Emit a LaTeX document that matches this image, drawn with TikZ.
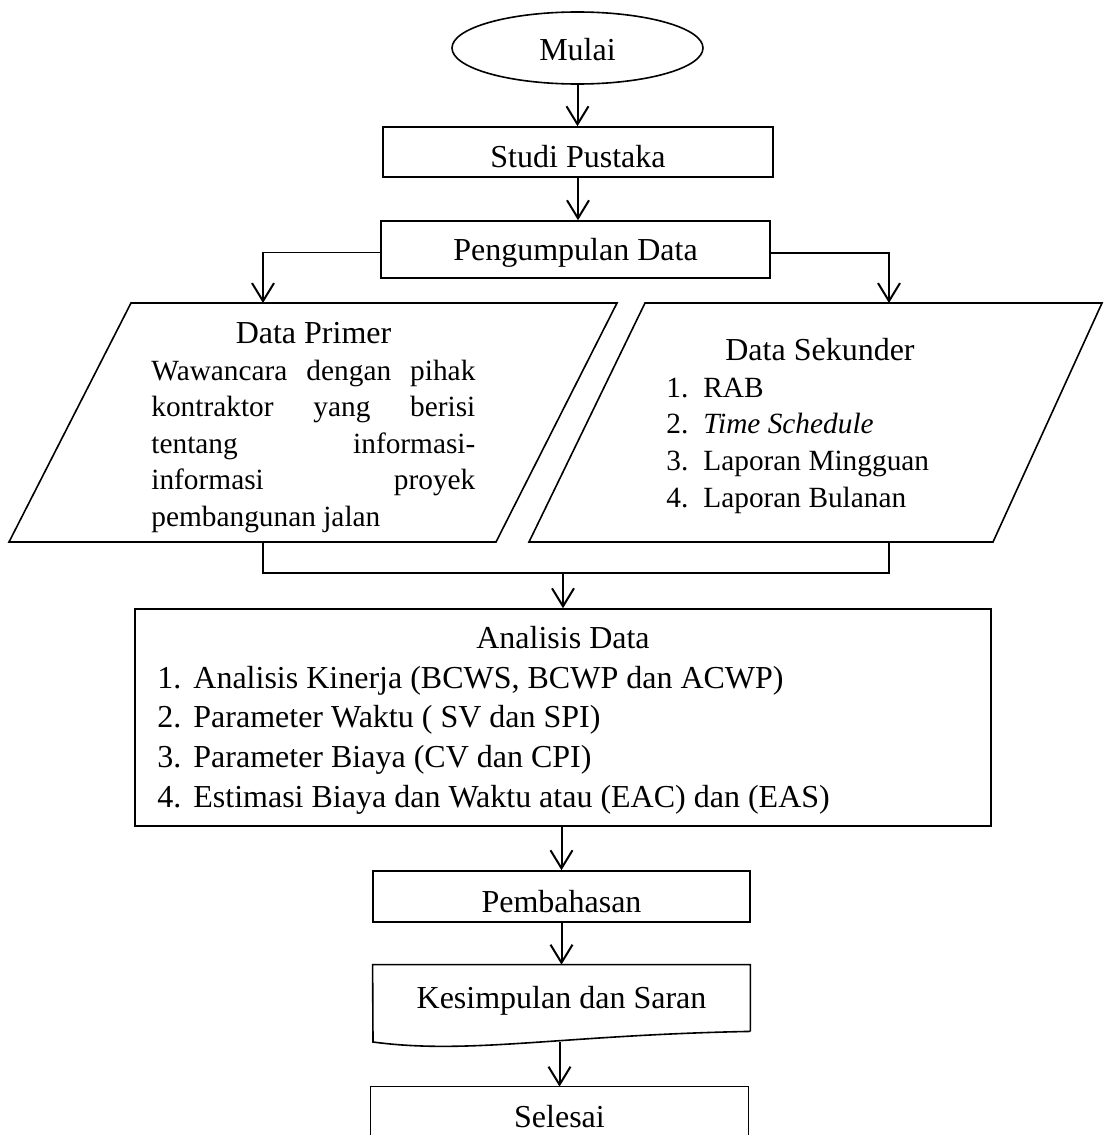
\documentclass[tikz,border=0pt]{standalone}
\usepackage{fontspec}
\setmainfont{Liberation Serif}
\usetikzlibrary{arrows.meta,shapes.geometric}
\begin{document}
\begin{tikzpicture}[x=0.5pt,y=-0.5pt,
  box/.style={draw, line width=0.8pt, rectangle, inner sep=0pt},
  plain/.style={inner sep=0pt},
  conn/.style={line width=0.8pt},
  arr/.style={line width=1pt, -{Straight Barb[length=9pt,width=11pt]}},
  big/.style={font=\fontsize{16pt}{19.85pt}\selectfont},
  small/.style={font=\fontsize{14.67pt}{18.3pt}\selectfont}]
\useasboundingbox (0,0) rectangle (1103,1135);

% start
\node[draw, ellipse, line width=0.8pt, inner sep=0pt, minimum width=125.5pt, minimum height=36pt,
      text height=12pt, text depth=0pt, big] (start) at (577.5,48) {Mulai};
% studi pustaka
\node[box, big, minimum width=195pt, minimum height=25pt, text height=20pt, text depth=5pt]
      (studi) at (578,152) {Studi Pustaka};
% pengumpulan data
\node[box, big, minimum width=194.5pt, minimum height=28.5pt, text height=19.5pt, text depth=9pt]
      (kumpul) at (575.5,249.5) {Pengumpulan Data};

% parallelogram coordinates
\coordinate (dptl) at (131,303);
\coordinate (dptr) at (617,303);
\coordinate (dpbr) at (496,542);
\coordinate (dpbl) at (9,542);
\coordinate (dstl) at (645,303);
\coordinate (dstr) at (1102,303);
\coordinate (dsbr) at (993,542);
\coordinate (dsbl) at (529,542);
\coordinate (dptop) at (263,303);
\coordinate (dpbot) at (263,542);
\coordinate (dstop) at (889,303);
\coordinate (dsbot) at (889,542);
\coordinate (cl) at (263,573);
\coordinate (cr) at (889,573);

\draw[conn] (dptl) -- (dptr) -- (dpbr) -- (dpbl) -- cycle;
\draw[conn] (dstl) -- (dstr) -- (dsbr) -- (dsbl) -- cycle;

% Data Primer text
\node[plain, big, anchor=base] (dphead) at (313.5,343) {Data Primer};
\node[plain, anchor=base west] (dpbody) at (151,380) {\parbox[t]{162pt}{\fontsize{14.67pt}{18.3pt}\selectfont
\makebox[\linewidth][s]{Wawancara dengan pihak}\\
\makebox[\linewidth][s]{kontraktor yang berisi}\\
\makebox[\linewidth][s]{tentang informasi-}\\
\makebox[\linewidth][s]{informasi proyek}\\
pembangunan jalan}};

% Data Sekunder text
\node[plain, big, anchor=base] (dshead) at (820,360) {Data Sekunder};
\node[plain, anchor=base west] (dsbody) at (666,397) {\parbox[t]{200pt}{\fontsize{14.67pt}{18.35pt}\selectfont
\makebox[18.5pt][l]{1.}RAB\\
\makebox[18.5pt][l]{2.}\textit{Time Schedule}\\
\makebox[18.5pt][l]{3.}Laporan Mingguan\\
\makebox[18.5pt][l]{4.}Laporan Bulanan}};

% Analisis Data
\node[box, minimum width=428pt, minimum height=108.5pt] (ana) at (563,717.5) {};
\node[plain, big, anchor=base] (anahead) at (563,648) {Analisis Data};
\node[plain, anchor=base west] (anabody) at (157,688) {\parbox[t]{400pt}{\fontsize{16pt}{19.85pt}\selectfont
\makebox[18pt][l]{1.}Analisis Kinerja (BCWS, BCWP dan ACWP)\\
\makebox[18pt][l]{2.}Parameter Waktu ( SV dan SPI)\\
\makebox[18pt][l]{3.}Parameter Biaya (CV dan CPI)\\
\makebox[18pt][l]{4.}Estimasi Biaya dan Waktu atau (EAC) dan (EAS)}};

% Pembahasan
\node[box, big, minimum width=188.5pt, minimum height=25.5pt, text height=20.5pt, text depth=5pt]
      (pemb) at (561.5,896.5) {Pembahasan};

% Kesimpulan dan Saran (document shape)
\node[plain, big, minimum width=188.5pt, minimum height=33pt, text height=21.5pt, text depth=11.5pt]
      (kes) at (561.5,998) {Kesimpulan dan Saran};
\draw[conn] (kes.south east) -- (kes.north east) -- (kes.north west) -- (373,1042)
   .. controls (470,1055) and (560,1035) .. (kes.south east);
\coordinate (kbot) at (559.5,1042);

% Selesai (cut by the page bottom)
\node[plain, big, minimum width=188.5pt, minimum height=24pt, text height=20pt, text depth=4pt]
      (sel) at (559.5,1111) {Selesai};
\draw[conn] (sel.south west) -- (sel.north west) -- (sel.north east) -- (sel.south east);

% connectors
\draw[arr] (start.south) -- (start.south |- studi.north);
\draw[arr] (studi.south) -- (studi.south |- kumpul.north);
\draw[conn] ([yshift=-1.5pt]kumpul.west) -| ([yshift=10pt]dptop);
\draw[arr] ([yshift=10pt]dptop) -- (dptop);
\draw[conn] ([yshift=-1.75pt]kumpul.east) -| ([yshift=10pt]dstop);
\draw[arr] ([yshift=10pt]dstop) -- (dstop);
\draw[conn] (dpbot) -- (cl) -- (cr) -- (dsbot);
\draw[arr] (cl -| ana.north) -- (ana.north);
\draw[arr] (ana.south -| pemb.north) -- (pemb.north);
\draw[arr] (pemb.south) -- (kes.north);
\draw[arr] (kbot) -- (kbot |- sel.north);
\end{tikzpicture}
\end{document}
